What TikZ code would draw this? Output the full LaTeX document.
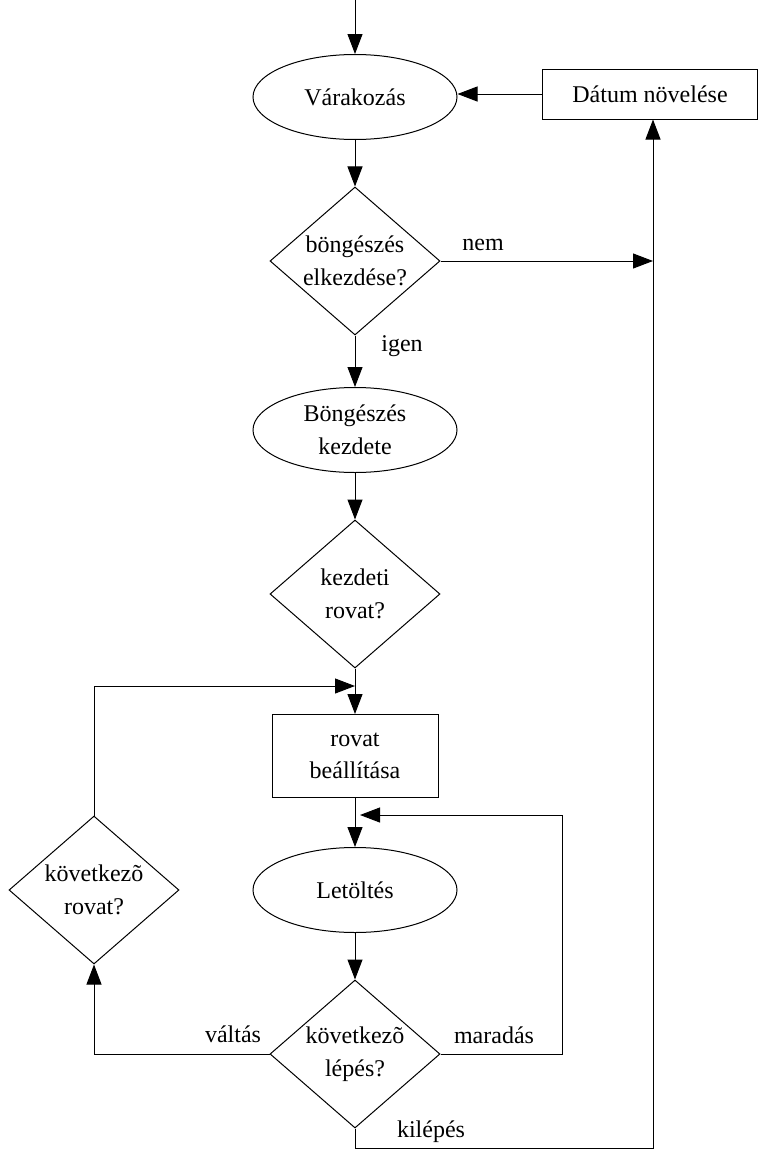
\documentclass[tikz,border=0pt]{standalone}
\usepackage{fontspec}
\setmainfont{Liberation Serif}
\usetikzlibrary{shapes, arrows.meta, positioning}

\begin{document}
\begin{tikzpicture}[x=0.5pt, y=-0.5pt, line width=0.5pt, >={Triangle[length=10pt, width=7.5pt]},
    font=\fontsize{12}{16.3}\selectfont,
    state/.style={draw, ellipse, inner sep=0pt, minimum width=102pt, minimum height=42.5pt, align=center},
    test/.style={draw, diamond, aspect=1.15, inner sep=0pt, minimum width=85pt, minimum height=74pt, align=center},
    task/.style={draw, rectangle, inner sep=0pt, align=center}]
\useasboundingbox (0,0) rectangle (759,1151);

\node[state] (wait) at (355,97) {Várakozás};
\node[task, minimum width=107.5pt, minimum height=25pt] (date) at (650,94) {Dátum növelése};
\node[test] (browse) at (355,261) {böngészés\\elkezdése?};
\node[state] (start) at (355,430) {Böngészés\\kezdete};
\node[test] (first) at (355,594) {kezdeti\\rovat?};
\node[task, minimum width=83pt, minimum height=41.5pt] (section) at (355,756) {rovat\\beállítása};
\node[state] (load) at (355,890) {Letöltés};
\node[test] (nextstep) at (355,1054) {következõ\\lépés?};
\node[test] (nextsec) at (94,890) {következõ\\rovat?};

\coordinate (entry) at (355,0);
\coordinate (merge) at (355,686);
\coordinate (back) at (360,815);
\coordinate (stay) at (562,815);
\coordinate (nemend) at (653,261);
\coordinate (exit) at (653,1148);

\draw[->] (entry) -- (wait);
\draw[->] (wait) -- (browse);
\draw[->] (browse) -- (nemend);
\draw[->] (browse) -- (start);
\draw[->] (start) -- (first);
\draw[->] (first) -- (section);
\draw[->] (section) -- (load);
\draw[->] (load) -- (nextstep);
\draw[->] (nextstep.west) -| (nextsec.south);
\draw[->] (nextsec.north) |- (merge);
\draw[->] (nextstep.east) -| (stay) -- (back);
\draw[->] (nextstep.south) |- (exit) -- (exit |- date.south);
\draw[->] (date.west) -- (date.west -| wait.east);

\node[anchor=base] (nem) at (483,250) {nem};
\node[anchor=base] (igen) at (402,351) {igen};
\node[anchor=base] (valtas) at (233,1042) {váltás};
\node[anchor=base] (maradas) at (494,1043) {maradás};
\node[anchor=base] (kilepes) at (431,1137) {kilépés};

\end{tikzpicture}
\end{document}
